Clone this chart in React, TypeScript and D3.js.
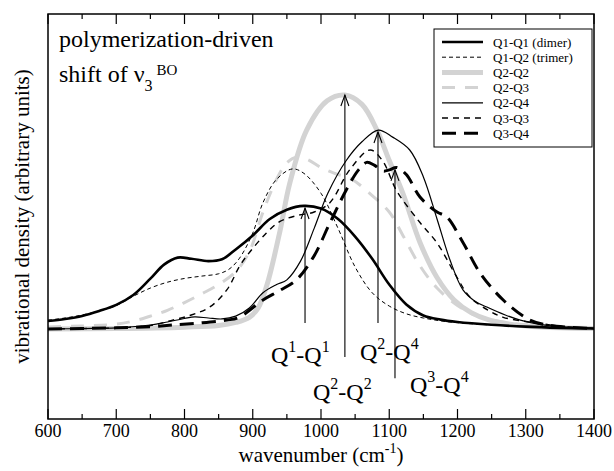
import React from 'react';
import * as d3 from 'd3';

const W = 614;
const H = 471;
const PL = 48, PR = 594, PT = 14, PB = 419;

const xDomain: [number, number] = [600, 1400];
const yDomain: [number, number] = [-0.3846, 1.3462];
const xMajorTicks = [600, 700, 800, 900, 1000, 1100, 1200, 1300, 1400];
const xMinorTicks = [650, 750, 850, 950, 1050, 1150, 1250, 1350];

type P = [number, number];

const q1q1: P[] = [[600,0.034],[625,0.043],[650,0.056],[675,0.077],[700,0.103],[725,0.145],[750,0.215],[770,0.275],[790,0.305],[810,0.3],[835,0.29],[855,0.298],[875,0.34],[900,0.4],[925,0.47],[950,0.51],[975,0.526],[1000,0.515],[1025,0.47],[1050,0.395],[1075,0.3],[1100,0.19],[1125,0.105],[1150,0.058],[1175,0.04],[1200,0.03],[1250,0.018],[1300,0.01],[1350,0.005],[1400,0.002]];
const q1q2: P[] = [[600,0.038],[625,0.047],[650,0.06],[675,0.077],[700,0.1],[725,0.14],[750,0.175],[775,0.2],[800,0.216],[825,0.226],[850,0.236],[865,0.255],[880,0.3],[900,0.41],[915,0.54],[935,0.64],[958,0.684],[975,0.665],[1000,0.58],[1025,0.43],[1050,0.265],[1075,0.155],[1100,0.098],[1125,0.065],[1150,0.047],[1175,0.035],[1200,0.027],[1250,0.017],[1300,0.01],[1350,0.005],[1400,0.002]];
const q2q2: P[] = [[600,0],[700,0.002],[800,0.008],[850,0.015],[875,0.028],[895,0.05],[908,0.09],[921,0.19],[940,0.42],[954,0.62],[979,0.85],[1009,0.975],[1035,1.0],[1060,0.96],[1082,0.85],[1100,0.72],[1120,0.58],[1145,0.37],[1170,0.22],[1195,0.124],[1220,0.07],[1245,0.04],[1275,0.022],[1300,0.013],[1350,0.005],[1400,0.002]];
const q2q3: P[] = [[600,0.009],[650,0.013],[700,0.021],[725,0.034],[750,0.055],[775,0.08],[800,0.113],[825,0.15],[850,0.19],[875,0.245],[895,0.33],[915,0.5],[935,0.64],[950,0.71],[965,0.735],[980,0.725],[1000,0.69],[1020,0.665],[1045,0.64],[1075,0.57],[1100,0.5],[1120,0.4],[1145,0.27],[1170,0.175],[1200,0.1],[1225,0.06],[1250,0.038],[1275,0.026],[1300,0.018],[1350,0.008],[1400,0.002]];
const q2q4: P[] = [[600,0],[650,0.002],[700,0.005],[750,0.017],[775,0.03],[800,0.045],[815,0.052],[835,0.047],[855,0.043],[875,0.055],[895,0.09],[915,0.155],[935,0.19],[950,0.21],[970,0.29],[990,0.43],[1010,0.58],[1037,0.72],[1060,0.8],[1084,0.85],[1105,0.82],[1130,0.765],[1150,0.65],[1170,0.47],[1189,0.295],[1208,0.167],[1225,0.12],[1243,0.094],[1270,0.06],[1292,0.038],[1320,0.02],[1350,0.01],[1400,0.002]];
const q3q3: P[] = [[600,0],[650,0.002],[700,0.005],[750,0.015],[780,0.036],[810,0.06],[837,0.094],[862,0.167],[881,0.27],[896,0.33],[920,0.41],[940,0.46],[965,0.485],[990,0.5],[1013,0.54],[1042,0.68],[1072,0.765],[1090,0.72],[1111,0.59],[1145,0.455],[1170,0.368],[1199,0.222],[1218,0.137],[1245,0.08],[1267,0.05],[1300,0.032],[1316,0.026],[1350,0.012],[1400,0.002]];
const q3q4: P[] = [[600,0],[650,0.002],[700,0.005],[750,0.01],[783,0.017],[820,0.025],[862,0.038],[880,0.05],[915,0.124],[940,0.165],[964,0.21],[989,0.308],[1013,0.453],[1037,0.594],[1055,0.68],[1067,0.712],[1078,0.7],[1091,0.675],[1100,0.68],[1111,0.69],[1125,0.66],[1145,0.564],[1170,0.5],[1184,0.48],[1208,0.37],[1233,0.24],[1267,0.124],[1306,0.038],[1330,0.018],[1360,0.008],[1400,0.002]];

const seriesNames = ['Q1-Q1 (dimer)', 'Q1-Q2 (trimer)', 'Q2-Q2', 'Q2-Q3', 'Q2-Q4', 'Q3-Q3', 'Q3-Q4'];
const seriesData = [q1q1, q1q2, q2q2, q2q3, q2q4, q3q3, q3q4];
const seriesStyle = [
  { stroke: '#000', width: 2.6, dash: '' },
  { stroke: '#000', width: 1, dash: '4,3' },
  { stroke: '#d3d3d3', width: 5, dash: '' },
  { stroke: '#d3d3d3', width: 3, dash: '13,10' },
  { stroke: '#000', width: 1.2, dash: '' },
  { stroke: '#000', width: 1.4, dash: '6,5' },
  { stroke: '#000', width: 3, dash: '14,8' },
];
const drawOrder = [2, 3, 0, 1, 4, 5, 6];

// arrows: wavenumber, start value, tip value
const arrowW = [976.6, 1035, 1083.5, 1108.4];
const arrowFrom = [0.026, -0.12, 0.026, -0.21];
const arrowTo = [0.517, 1.0, 0.842, 0.68];

const FONT = 'Liberation Serif, DejaVu Serif, serif';
const ts = (size: number): React.CSSProperties => ({ fontFamily: FONT, fontSize: size + 'px' });

export default function App() {
  const x = d3.scaleLinear().domain(xDomain).range([PL, PR]);
  const y = d3.scaleLinear().domain(yDomain).range([PB, PT]);
  const line = d3.line<P>().x(d => x(d[0])).y(d => y(d[1])).curve(d3.curveCatmullRom.alpha(0.5));

  const supLabel = (xp: number, yp: number, a: string, b: string) => (
    <text x={xp} y={yp} style={ts(24)} fill="#000">
      Q<tspan dy={-11} style={ts(16)}>{a}</tspan><tspan dy={11} style={ts(24)}>-Q</tspan><tspan dy={-11} style={ts(16)}>{b}</tspan>
    </text>
  );

  return (
    <svg width={W} height={H} style={{ position: 'absolute', left: 0, top: 0, background: '#fff' }}>
      <rect x={0} y={0} width={W} height={H} fill="#fff" />
      <defs>
        <clipPath id="plotclip"><rect x={PL} y={PT} width={PR - PL} height={PB - PT} /></clipPath>
      </defs>
      <g clipPath="url(#plotclip)">
        {drawOrder.map(i => (
          <path key={i} d={line(seriesData[i]) || ''} fill="none" stroke={seriesStyle[i].stroke}
            strokeWidth={seriesStyle[i].width} strokeDasharray={seriesStyle[i].dash || undefined} />
        ))}
      </g>
      {arrowW.map((w, i) => {
        const ax = x(w), y0 = y(arrowFrom[i]), y1 = y(arrowTo[i]);
        return (
          <g key={i} stroke="#000" strokeWidth={1.1} fill="none">
            <line x1={ax} x2={ax} y1={y0} y2={y1} />
            <path d={`M${ax - 4},${y1 + 11} L${ax},${y1} L${ax + 4},${y1 + 11}`} />
          </g>
        );
      })}
      {supLabel(271, 363, '1', '1')}
      {supLabel(360, 360, '2', '4')}
      {supLabel(313, 400, '2', '2')}
      {supLabel(410, 393, '3', '4')}
      <rect x={PL} y={PT} width={PR - PL} height={PB - PT} fill="none" stroke="#000" strokeWidth={1.5} />
      {xMajorTicks.map(t => (
        <g key={'M' + t} stroke="#000" strokeWidth={1.2}>
          <line x1={x(t)} x2={x(t)} y1={PB} y2={PB - 10} />
          <line x1={x(t)} x2={x(t)} y1={PT} y2={PT + 10} />
        </g>
      ))}
      {xMinorTicks.map(t => (
        <g key={'m' + t} stroke="#000" strokeWidth={1.2}>
          <line x1={x(t)} x2={x(t)} y1={PB} y2={PB - 5} />
          <line x1={x(t)} x2={x(t)} y1={PT} y2={PT + 5} />
        </g>
      ))}
      {xMajorTicks.map(t => (
        <text key={'l' + t} x={x(t)} y={437} textAnchor="middle" style={ts(18)} fill="#000">{t}</text>
      ))}
      <text x={(PL + PR) / 2} y={462} textAnchor="middle" style={ts(21)} fill="#000">
        wavenumber (cm<tspan dy={-9} style={ts(14)}>-1</tspan><tspan dy={9} style={ts(21)}>)</tspan>
      </text>
      <text transform={`translate(29,${(PT + PB) / 2}) rotate(-90)`} textAnchor="middle" style={ts(21)} fill="#000">
        vibrational density (arbitrary units)
      </text>
      <text x={59} y={47} style={ts(24)} fill="#000">polymerization-driven</text>
      <text x={59} y={82} style={ts(24)} fill="#000">
        shift of ν<tspan dy={9} style={ts(16)}>3</tspan><tspan dx={4} dy={-16} style={ts(15)}>BO</tspan>
      </text>
      <rect x={434} y={29} width={158} height={118} fill="#fff" stroke="#000" strokeWidth={1} />
      {seriesNames.map((n, i) => {
        const ly = 42 + i * 15.2;
        const s = seriesStyle[i];
        return (
          <g key={n}>
            <line x1={442} x2={483} y1={ly} y2={ly} stroke={s.stroke} strokeWidth={s.width} strokeDasharray={s.dash || undefined} />
            <text x={493} y={ly + 4.5} style={ts(13)} fill="#000">{n}</text>
          </g>
        );
      })}
    </svg>
  );
}
